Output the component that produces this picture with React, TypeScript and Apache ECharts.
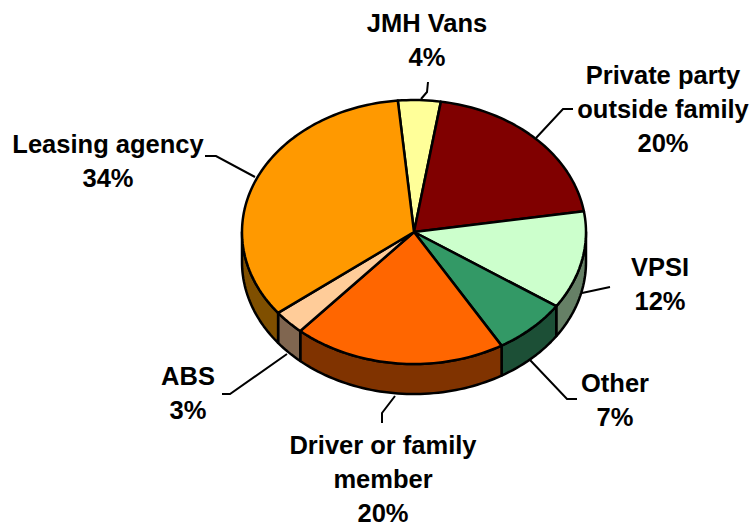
import React, { useEffect, useRef } from "react";
import * as echarts from "echarts";

const categories = ["JMH Vans", "Private party\noutside family", "VPSI", "Other", "Driver or family\nmember", "ABS", "Leasing agency"];
const values = [4, 20, 12, 7, 20, 3, 34];
const topColors = ["#FFFF99", "#800000", "#CCFFCC", "#339966", "#FF6600", "#FFCC99", "#FF9900"];
const sideColors = ["#80804C", "#400000", "#668066", "#1C4F36", "#803300", "#806650", "#7F4F00"];
const labelCenters = [[427, 40], [663, 109], [660, 284], [615, 400], [383, 479], [188, 393], [108, 161]];
const leaderLines = [
  [[428, 82], [427, 92], [421, 99]],
  [[573, 109], [563, 109], [536, 138]],
  [[610, 287], [582, 293]],
  [[577, 399], [567, 399], [530, 360]],
  [[222, 394], [230, 394], [287, 354]],
  [[395, 396], [382, 413], [382, 423]],
  [[205, 156], [216, 156], [255, 177]],
];

const CX = 414, CY = 232, RX = 172, RY = 132, DEPTH = 30, START = -5.4, LINE = 34;
const total = values.reduce((a, b) => a + b, 0);
const startOf = (i: number) => START + (values.slice(0, i).reduce((a, b) => a + b, 0) / total) * 360;
const pt = (deg: number, dy = 0) => {
  const r = (deg * Math.PI) / 180;
  return [CX + RX * Math.sin(r), CY - RY * Math.cos(r) + dy];
};
const arc = (a: number, b: number, dy = 0) => {
  const n = Math.max(2, Math.ceil(Math.abs(b - a) / 1.5));
  return Array.from({ length: n + 1 }, (_, k) => pt(a + ((b - a) * k) / n, dy));
};
const OUT = { stroke: "#000", lineWidth: 2.5, lineJoin: "round" };

export default function App() {
  const ref = useRef<HTMLDivElement>(null);
  useEffect(() => {
    const chart = echarts.init(ref.current!, undefined, { renderer: "svg" });
    const data = values.map((v) => [v]);
    chart.setOption({
      animation: false,
      backgroundColor: "#fff",
      series: [
        {
          type: "custom",
          coordinateSystem: "none",
          silent: true,
          data,
          renderItem: (p: any, api: any) => {
            const i = p.dataIndex;
            const a = Math.max(startOf(i), 90);
            const b = Math.min(startOf(i) + (api.value(0) / total) * 360, 270);
            if (b <= a) return { type: "group", children: [] };
            return {
              type: "polygon",
              shape: { points: [...arc(a, b), ...arc(b, a, DEPTH)] },
              style: { fill: sideColors[i], ...OUT },
            };
          },
        },
        {
          type: "custom",
          coordinateSystem: "none",
          silent: true,
          data,
          renderItem: (p: any, api: any) => {
            const i = p.dataIndex;
            const a = startOf(i);
            const b = a + (api.value(0) / total) * 360;
            return {
              type: "polygon",
              shape: { points: [[CX, CY], ...arc(a, b)] },
              style: { fill: topColors[i], ...OUT },
            };
          },
        },
      ],
      graphic: [
        ...leaderLines.map((points) => ({
          type: "polyline",
          shape: { points },
          style: { stroke: "#000", lineWidth: 2, fill: "none" },
          z: 5,
        })),
        ...categories.flatMap((c, i) => {
          const lines = [...c.split("\n"), `${values[i]}%`];
          return lines.map((text, k) => ({
            type: "text",
            x: labelCenters[i][0],
            y: labelCenters[i][1] + (k - (lines.length - 1) / 2) * LINE,
            z: 6,
            style: {
              text,
              fill: "#000",
              font: "bold 25.5px 'Liberation Sans', Arial, sans-serif",
              align: "center",
              verticalAlign: "middle",
            },
          }));
        }),
      ],
    });
    return () => chart.dispose();
  }, []);
  return <div ref={ref} style={{ position: "absolute", left: 0, top: 0, width: 750, height: 527 }} />;
}
